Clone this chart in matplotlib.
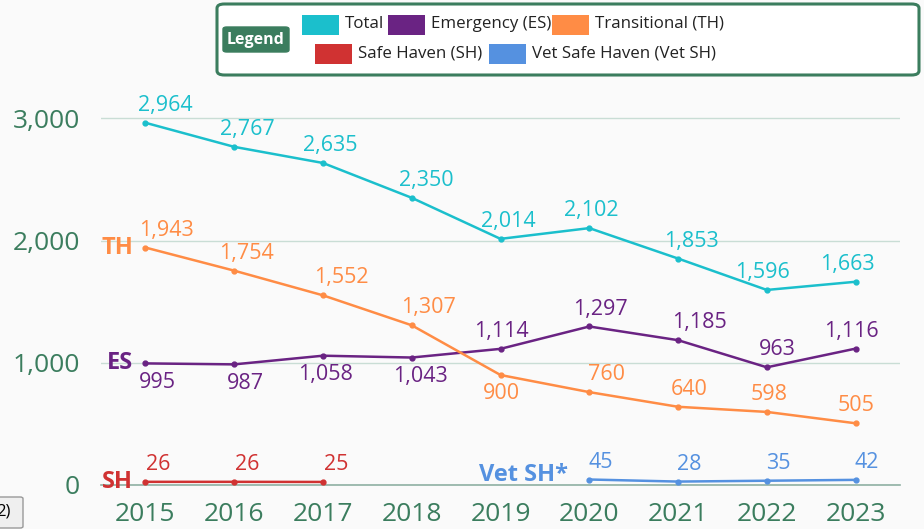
import matplotlib.pyplot as plt
from matplotlib.patches import FancyBboxPatch, Rectangle
from matplotlib.ticker import FuncFormatter

years = [2015, 2016, 2017, 2018, 2019, 2020, 2021, 2022, 2023]
total = [2964, 2767, 2635, 2350, 2014, 2102, 1853, 1596, 1663]
es = [995, 987, 1058, 1043, 1114, 1297, 1185, 963, 1116]
th = [1943, 1754, 1552, 1307, 900, 760, 640, 598, 505]
sh_years = [2015, 2016, 2017]
sh = [26, 26, 25]
vet_years = [2020, 2021, 2022, 2023]
vet_sh = [45, 28, 35, 42]

c_total = '#1bbfcc'
c_es = '#6a2383'
c_th = '#ff8c45'
c_sh = '#d03232'
c_vet = '#5591e0'
c_green = '#3b7d5e'
bg = '#fafafa'

W, H = 924, 529
plt.rcParams['font.family'] = ['Open Sans', 'DejaVu Sans']

fig = plt.figure(figsize=(W / 100, H / 100), dpi=100, facecolor=bg)
# axes placed in pixel terms: left 101, right 900, y=0 at 485
ax = fig.add_axes([101 / W, 1 - 485 / H, 799 / W, (485 - 81.7) / H], facecolor=bg)
ax.set_xlim(2014.5, 2023.5)
ax.set_ylim(0, 3300)

ax.set_yticks([0, 1000, 2000, 3000])
ax.yaxis.set_major_formatter(FuncFormatter(lambda v, p: f'{int(v):,}'))
ax.set_xticks(years)
ax.grid(axis='y', color='#c9ddd5', lw=1)
ax.set_axisbelow(True)
for s in ['top', 'right', 'left']:
    ax.spines[s].set_visible(False)
ax.spines['bottom'].set_color('#8fb0a3')
ax.spines['bottom'].set_linewidth(1.2)
ax.tick_params(axis='y', length=0, pad=15, labelsize=19, labelcolor=c_green)
ax.tick_params(axis='x', length=0, pad=12.5, labelsize=19, labelcolor=c_green)


def draw(xs, ys, color, above, shifts):
    ax.plot(xs, ys, color=color, lw=1.8, marker='o', ms=3.5, zorder=3)
    for x, y, up, dx in zip(xs, ys, above, shifts):
        ax.annotate(f'{y:,}', (x, y), xytext=(dx * 0.72, 12.5 if up else -13.5),
                    textcoords='offset points', ha='center',
                    va='center', color=color, fontsize=15.5)


# horizontal label shifts (px) as placed in the original
draw(years, total, c_total, [True] * 9, [20, 13, 7, 15, 8, 2, 13, -4, -8])
draw(years, es, c_es, [False] * 4 + [True] * 5, [12, 11, 3, 9, 1, 11, 21, 10, -4])
draw(years, th, c_th, [True] * 4 + [False] + [True] * 4, [21, 12, 18, 17, 1, 17, 11, 2, 0])
draw(sh_years, sh, c_sh, [True] * 3, [13, 13, 13])
draw(vet_years, vet_sh, c_vet, [True] * 4, [11, 11, 11, 11])

# series tags on the left
for txt, y, col in [('TH', th[0], c_th), ('ES', es[0], c_es), ('SH', sh[0], c_sh)]:
    ax.annotate(txt, (2015, y), xytext=(-9, 0), textcoords='offset points',
                ha='right', va='center', color=col, fontsize=17, fontweight='bold')
ax.annotate('Vet SH*', (2020, vet_sh[0]), xytext=(-15, 3), textcoords='offset points',
            ha='right', va='center', color=c_vet, fontsize=17, fontweight='bold')


# legend drawn by hand (two rows, second one centered)
def fx(px):
    return px / W


def fy(py):
    return 1 - py / H


fig.add_artist(FancyBboxPatch((fx(217), fy(75)), fx(919) - fx(217), fy(4) - fy(75),
                              boxstyle='round,pad=0,rounding_size=0.008',
                              transform=fig.transFigure, facecolor='white',
                              edgecolor=c_green, lw=2.2))
fig.add_artist(FancyBboxPatch((fx(223), fy(52)), fx(289) - fx(223), fy(27) - fy(52),
                              boxstyle='round,pad=0,rounding_size=0.004',
                              transform=fig.transFigure, facecolor=c_green,
                              edgecolor=c_green))
fig.text(fx(256), fy(40), 'Legend', color='white', fontsize=11.5,
         fontweight='bold', ha='center', va='center')

leg_items = [
    ('Total', c_total, 302, 25),
    ('Emergency (ES)', c_es, 388, 25),
    ('Transitional (TH)', c_th, 552, 25),
    ('Safe Haven (SH)', c_sh, 315, 54),
    ('Vet Safe Haven (Vet SH)', c_vet, 489, 54),
]
for name, col, px, py in leg_items:
    fig.add_artist(Rectangle((fx(px), fy(py + 10)), 37 / W, 20 / H,
                             transform=fig.transFigure, facecolor=col, edgecolor='none'))
    fig.text(fx(px + 43), fy(py - 1), name, fontsize=12.2, color='#222222',
             ha='left', va='center')

# partially visible button at the bottom-left corner
fig.add_artist(FancyBboxPatch((fx(-10), fy(528)), fx(23) - fx(-10), fy(497) - fy(528),
                              boxstyle='round,pad=0,rounding_size=0.003',
                              transform=fig.transFigure, facecolor='#efefef',
                              edgecolor='#999999', lw=1))
fig.text(fx(3), fy(512), '2)', fontsize=12, color='black', ha='center', va='center')

fig.savefig('out.png', dpi=100, facecolor=bg)
